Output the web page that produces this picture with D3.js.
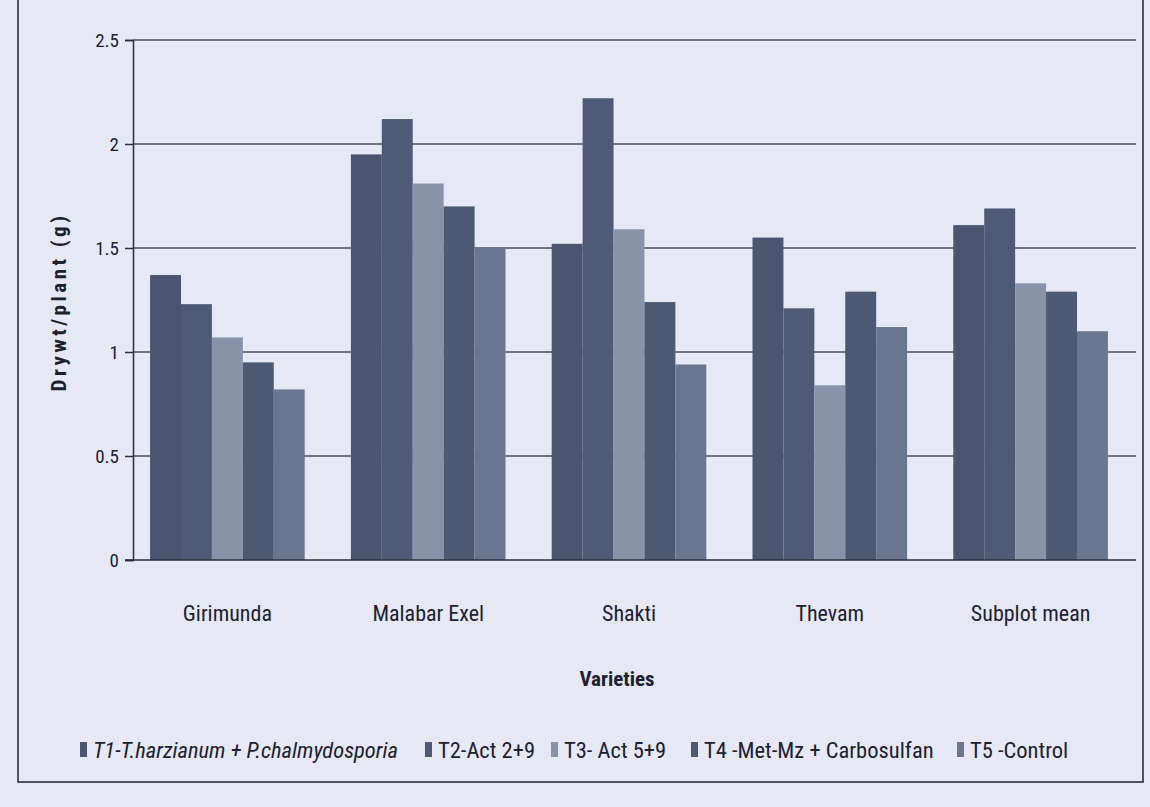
<!DOCTYPE html>
<html><head><meta charset="utf-8">
<script src="https://cdn.jsdelivr.net/npm/d3@7/dist/d3.min.js"></script>
<style>
html,body{margin:0;padding:0;background:#e6e9f5;}
svg{display:block;}
text{font-family:'Roboto Condensed','Liberation Sans Narrow','Noto Sans',sans-serif;fill:#1c2130;}
</style></head>
<body>
<svg id="chart" width="1150" height="807"></svg>
<script>
const categories = ["Girimunda","Malabar Exel","Shakti","Thevam","Subplot mean"];
const seriesNames = ["T1-T.harzianum + P.chalmydosporia","T2-Act 2+9","T3- Act 5+9","T4 -Met-Mz + Carbosulfan","T5 -Control"];
const t1 = [1.37, 1.95, 1.52, 1.55, 1.61];
const t2 = [1.23, 2.12, 2.22, 1.21, 1.69];
const t3 = [1.07, 1.81, 1.59, 0.84, 1.33];
const t4 = [0.95, 1.70, 1.24, 1.29, 1.29];
const t5 = [0.82, 1.50, 0.94, 1.12, 1.10];
const yTicks = [0, 0.5, 1, 1.5, 2, 2.5];
const seriesValues = [t1, t2, t3, t4, t5];
const colors = ["#4b5570", "#4f5b76", "#8893aa", "#4d5873", "#6a7690"];
const FONT = "'Roboto Condensed','Liberation Sans Narrow','Noto Sans',sans-serif";

const svg = d3.select("#chart");

// outer chart border
svg.append("rect").attr("x", 18).attr("y", -5).attr("width", 1125).attr("height", 787)
  .attr("fill", "none").attr("stroke", "#2a2f3a").attr("stroke-width", 1.6);

const x0 = d3.scaleBand().domain(categories).range([128, 1130]).paddingInner(0.23).paddingOuter(0.11);
const x1 = d3.scaleBand().domain(d3.range(5)).range([0, x0.bandwidth()]).padding(0);
const y = d3.scaleLinear().domain([0, 2.5]).range([560, 40]);

// gridlines
svg.append("g").selectAll("line").data(yTicks.filter(d => d > 0)).join("line")
  .attr("x1", 133).attr("x2", 1136)
  .attr("y1", d => y(d)).attr("y2", d => y(d))
  .attr("stroke", "#484d5a").attr("stroke-width", 1.5);

// y axis
const yAxis = d3.axisLeft(y).tickValues(yTicks).tickSize(8).tickPadding(6)
  .tickFormat(d => d3.format("")(d));
const gy = svg.append("g").attr("transform", "translate(133,0)").call(yAxis);
gy.select(".domain").attr("stroke", "#2a2f3a").attr("stroke-width", 1.5);
gy.selectAll(".tick line").attr("stroke", "#2a2f3a").attr("stroke-width", 1.5);
gy.selectAll(".tick text").style("font-size", "19px").attr("fill", "#1c2130").style("font-family", FONT);

// bars
const groups = svg.append("g").selectAll("g").data(categories).join("g")
  .attr("transform", d => `translate(${x0(d)},0)`);
groups.selectAll("rect").data((c, ci) => seriesValues.map((s, si) => ({si, v: s[ci]}))).join("rect")
  .attr("x", d => x1(d.si)).attr("width", x1.bandwidth())
  .attr("y", d => y(d.v)).attr("height", d => y(0) - y(d.v))
  .attr("fill", d => colors[d.si]);

// x axis baseline
svg.append("line").attr("x1", 125).attr("x2", 1136).attr("y1", y(0)).attr("y2", y(0))
  .attr("stroke", "#2a2f3a").attr("stroke-width", 1.5);

// category labels
const xAxis = d3.axisBottom(x0).tickSize(0).tickPadding(45);
const gx = svg.append("g").attr("transform", `translate(0,${y(0)})`).call(xAxis);
gx.select(".domain").remove();
gx.selectAll(".tick text").style("font-size", "22px").attr("fill", "#1c2130").style("font-family", FONT);

// axis titles
svg.append("text").attr("x", 617).attr("y", 686).attr("text-anchor", "middle")
  .style("font-size", "21px").style("font-weight", "bold").text("Varieties");
svg.append("text").attr("transform", "translate(66,302) rotate(-90)").attr("text-anchor", "middle")
  .style("font-size", "21px").style("font-weight", "bold").style("letter-spacing", "3.5px")
  .text("Drywt/plant (g)");

// legend
const legendX = [80, 425, 551, 691, 957];
const lg = svg.append("g").selectAll("g").data(seriesNames).join("g")
  .attr("transform", (d, i) => `translate(${legendX[i]},750)`);
lg.append("rect").attr("x", 0).attr("y", -8).attr("width", 7).attr("height", 15)
  .attr("fill", (d, i) => colors[i]);
lg.append("text").attr("x", 13).attr("y", 8).style("font-size", "22.5px")
  .style("font-style", (d, i) => i === 0 ? "italic" : "normal").text(d => d);
</script>
</body></html>
